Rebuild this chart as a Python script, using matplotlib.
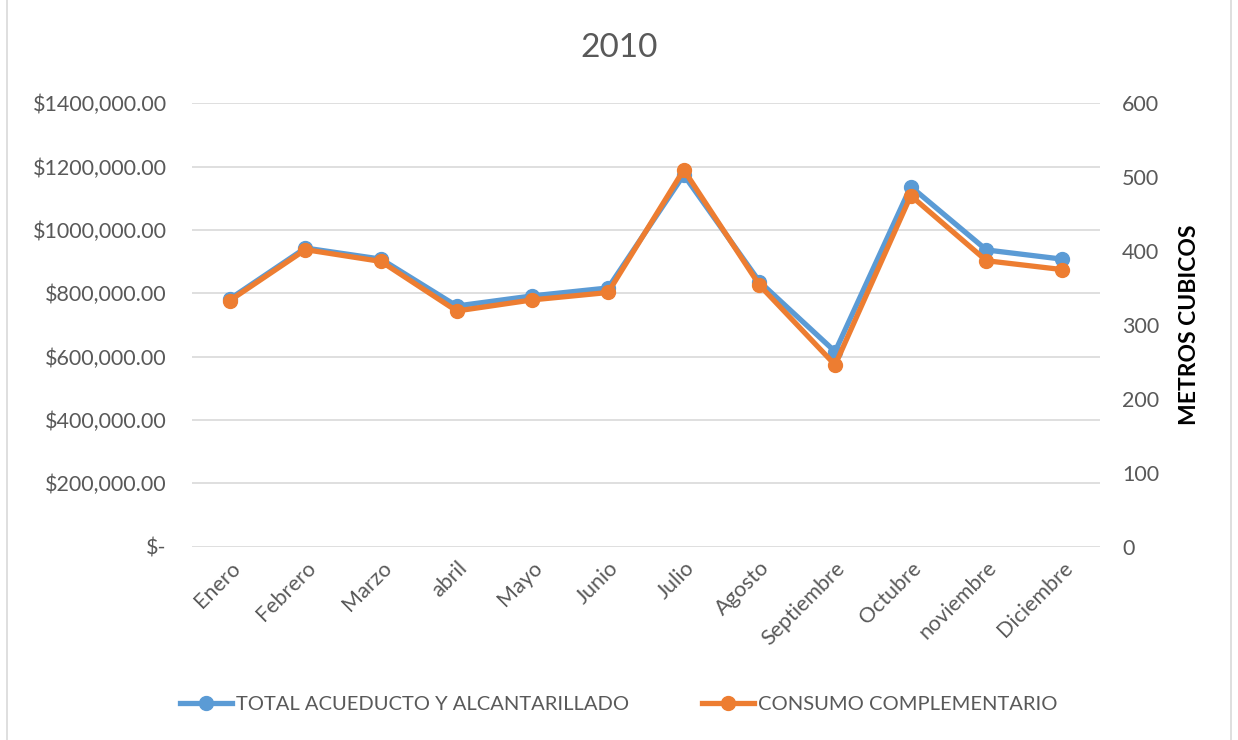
import matplotlib.pyplot as plt
from matplotlib.patches import Rectangle
from matplotlib.lines import Line2D

# Datos 2010
meses = ['Enero', 'Febrero', 'Marzo', 'abril', 'Mayo', 'Junio', 'Julio',
         'Agosto', 'Septiembre', 'Octubre', 'noviembre', 'Diciembre']
total_acueducto = [782000, 943000, 908000, 760000, 792000, 817000,
                   1174000, 837000, 616000, 1137000, 937000, 908000]
consumo_complementario = [333, 402, 386, 319, 334, 344,
                          510, 354, 246, 475, 387, 375]
left_ticks = [0, 200000, 400000, 600000, 800000, 1000000, 1200000, 1400000]
left_labels = ['$-', '$200,000.00', '$400,000.00', '$600,000.00', '$800,000.00',
               '$1000,000.00', '$1200,000.00', '$1400,000.00']
right_ticks = [0, 100, 200, 300, 400, 500, 600]

BLUE = '#5b9bd5'
ORANGE = '#ed7d31'
GREY = '#595959'

plt.rcParams['font.family'] = ['Lato', 'DejaVu Sans']

fig = plt.figure(figsize=(12.38, 7.4), dpi=100)
ax = fig.add_axes([0.155, 0.2612, 0.7335, 0.5992])
ax2 = ax.twinx()

x = list(range(len(meses)))
ax.plot(x, total_acueducto, color=BLUE, lw=3.8, marker='o', markersize=10,
        solid_capstyle='round')
ax2.plot(x, consumo_complementario, color=ORANGE, lw=3.8, marker='o', markersize=10,
         solid_capstyle='round')

ax.set_xlim(-0.5, len(meses) - 0.5)
ax.set_ylim(0, 1400000)
ax2.set_ylim(0, 600)

ax.set_yticks(left_ticks, labels=left_labels)
ax2.set_yticks(right_ticks)
ax.set_xticks(x, labels=meses)
plt.setp(ax.get_xticklabels(), rotation=45, ha='right', rotation_mode='anchor')

ax.grid(axis='y', color='#d9d9d9', lw=1.2)
ax.set_axisbelow(True)
for a in (ax, ax2):
    for s in a.spines.values():
        s.set_visible(False)
    a.tick_params(length=0, labelsize=15.5, colors=GREY)
ax.tick_params(axis='y', pad=18)
ax.tick_params(axis='x', pad=8)
ax2.tick_params(axis='y', pad=16)

ax2.set_ylabel('METROS CUBICOS', fontsize=16.5, fontweight='bold', color='black',
               labelpad=14)

fig.text(0.5, 0.935, '2010', ha='center', va='center', fontsize=24, color=GREY)

handles = [Line2D([], [], color=BLUE, lw=3.8, marker='o', markersize=10),
           Line2D([], [], color=ORANGE, lw=3.8, marker='o', markersize=10)]
fig.legend(handles, ['TOTAL ACUEDUCTO Y ALCANTARILLADO', 'CONSUMO COMPLEMENTARIO'],
           loc='center', bbox_to_anchor=(0.5, 0.048), ncol=2, frameon=False,
           fontsize=14.5, labelcolor=GREY, handlelength=2.6, columnspacing=3.6,
           handletextpad=0.2)

fig.add_artist(Rectangle((0.006, -0.01), 0.988, 1.02, transform=fig.transFigure,
                         fill=False, edgecolor='#d9d9d9', lw=1.2))

fig.savefig('out.png', dpi=100)
